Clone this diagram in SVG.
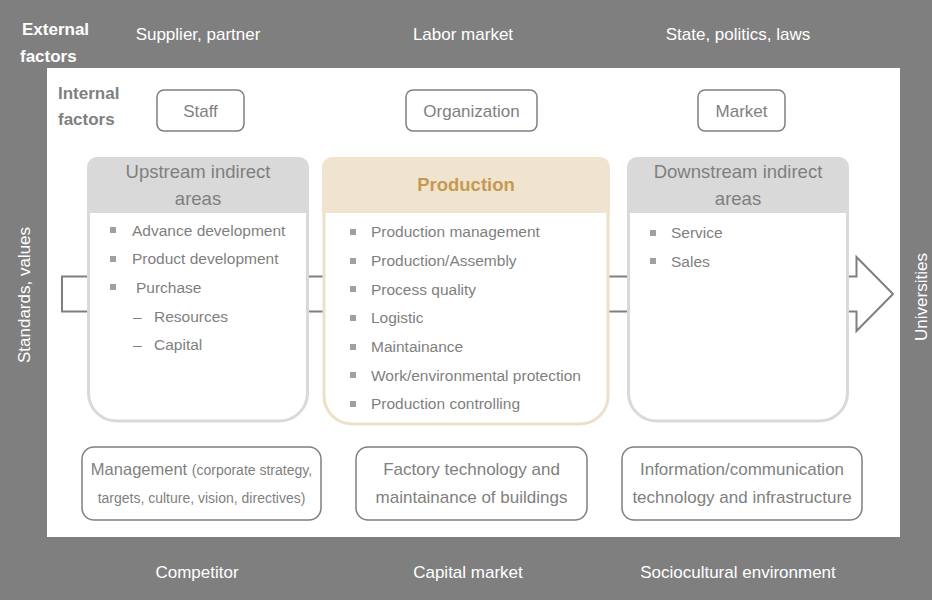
<svg xmlns="http://www.w3.org/2000/svg" width="932" height="600" viewBox="0 0 932 600">
<defs>
<style>
text{font-family:"Liberation Sans",Arial,sans-serif;}
.ext{fill:#ffffff;font-size:17px;}
.extb{fill:#ffffff;font-size:17px;font-weight:bold;}
.intb{fill:#7f7f7f;font-size:17px;font-weight:bold;}
.lbl{fill:#7f7f7f;font-size:17px;text-anchor:middle;}
.hdr{fill:#7f7f7f;font-size:18.5px;text-anchor:middle;}
.item{fill:#7f7f7f;font-size:15.5px;}
.box{fill:#ffffff;stroke:#7f7f7f;stroke-width:1.5;}
.gbody{fill:#ffffff;stroke:#d9d9d9;stroke-width:3;}
.ghead{fill:#d9d9d9;}
.pbody{fill:#ffffff;stroke:#eee0c7;stroke-width:3;}
.phead{fill:#f0e4cf;}
.bul{fill:#a0a0a0;}
.conn{fill:none;stroke:#7f7f7f;stroke-width:2;}
</style>
</defs>
<rect x="0" y="0" width="932" height="600" fill="#7f7f7f"/>
<rect x="47" y="68" width="853" height="469" fill="#ffffff"/>

<g id="external-labels">
<text class="extb" x="22" y="35">External</text>
<text class="extb" x="20" y="62">factors</text>
<text class="ext" x="198" y="40" text-anchor="middle">Supplier, partner</text>
<text class="ext" x="463" y="40" text-anchor="middle">Labor market</text>
<text class="ext" x="738" y="40" text-anchor="middle">State, politics, laws</text>
<text class="ext" x="197" y="578" text-anchor="middle">Competitor</text>
<text class="ext" x="468" y="578" text-anchor="middle">Capital market</text>
<text class="ext" x="738" y="578" text-anchor="middle">Sociocultural environment</text>
<text class="ext" transform="translate(30,295) rotate(-90)" text-anchor="middle">Standards, values</text>
<text class="ext" transform="translate(927,297) rotate(-90)" text-anchor="middle">Universities</text>
</g>

<g id="internal-label">
<text class="intb" x="58" y="99">Internal</text>
<text class="intb" x="58" y="125">factors</text>
</g>

<g id="connectors">
<path class="conn" d="M62,276.5 H856.5 V257 L893,294 L856.5,331 V311.5 H62 Z"/>
</g>

<g id="staff">
<rect class="box" x="157" y="90" width="87" height="41" rx="7"/>
<text class="lbl" x="200.5" y="117">Staff</text>
</g>
<g id="organization">
<rect class="box" x="406" y="90" width="131" height="41" rx="7"/>
<text class="lbl" x="471.5" y="117">Organization</text>
</g>
<g id="market">
<rect class="box" x="698" y="90" width="87" height="41" rx="7"/>
<text class="lbl" x="741.5" y="117">Market</text>
</g>

<g id="upstream">
<path class="gbody" d="M88.5,200 V393 A28,28 0 0 0 116.5,421 H279.5 A28,28 0 0 0 307.5,393 V200"/>
<path class="ghead" d="M87,213 V167 A10,10 0 0 1 97,157 H299 A10,10 0 0 1 309,167 V213 Z"/>
<text class="hdr" x="198" y="178">Upstream indirect</text>
<text class="hdr" x="198" y="205">areas</text>
<rect class="bul" x="110" y="227" width="6" height="6"/>
<text class="item" x="132" y="235.5">Advance development</text>
<rect class="bul" x="110" y="256" width="6" height="6"/>
<text class="item" x="132" y="264">Product development</text>
<rect class="bul" x="110" y="284" width="6" height="6"/>
<text class="item" x="136" y="293">Purchase</text>
<text class="item" x="133" y="321.5">–</text>
<text class="item" x="154" y="321.5">Resources</text>
<text class="item" x="133" y="350">–</text>
<text class="item" x="154" y="350">Capital</text>
</g>

<g id="production">
<path class="pbody" d="M324,200 V396 A28,28 0 0 0 352,424 H580 A28,28 0 0 0 608,396 V200"/>
<path class="phead" d="M322,213 V167 A10,10 0 0 1 332,157 H600 A10,10 0 0 1 610,167 V213 Z"/>
<text x="466" y="191" text-anchor="middle" style="font-size:18.5px;font-weight:bold;fill:#c49a52">Production</text>
<rect class="bul" x="350" y="229" width="6" height="6"/>
<text class="item" x="371" y="237">Production management</text>
<rect class="bul" x="350" y="258" width="6" height="6"/>
<text class="item" x="371" y="266">Production/Assembly</text>
<rect class="bul" x="350" y="286" width="6" height="6"/>
<text class="item" x="371" y="294.5">Process quality</text>
<rect class="bul" x="350" y="315" width="6" height="6"/>
<text class="item" x="371" y="323">Logistic</text>
<rect class="bul" x="350" y="344" width="6" height="6"/>
<text class="item" x="371" y="352">Maintainance</text>
<rect class="bul" x="350" y="372" width="6" height="6"/>
<text class="item" x="371" y="380.5">Work/environmental protection</text>
<rect class="bul" x="350" y="401" width="6" height="6"/>
<text class="item" x="371" y="409">Production controlling</text>
</g>

<g id="downstream">
<path class="gbody" d="M628.5,200 V393 A28,28 0 0 0 656.5,421 H819.5 A28,28 0 0 0 847.5,393 V200"/>
<path class="ghead" d="M627,213 V167 A10,10 0 0 1 637,157 H839 A10,10 0 0 1 849,167 V213 Z"/>
<text class="hdr" x="738" y="178">Downstream indirect</text>
<text class="hdr" x="738" y="205">areas</text>
<rect class="bul" x="650" y="230" width="6" height="6"/>
<text class="item" x="671" y="238">Service</text>
<rect class="bul" x="650" y="258" width="6" height="6"/>
<text class="item" x="671" y="266.5">Sales</text>
</g>

<g id="management">
<rect class="box" x="82" y="447" width="239" height="73" rx="12"/>
<text x="201.5" y="475" text-anchor="middle" style="fill:#7f7f7f;font-size:16.5px">Management <tspan style="font-size:14px">(corporate strategy,</tspan></text>
<text x="201.5" y="503" text-anchor="middle" style="fill:#7f7f7f;font-size:14px">targets, culture, vision, directives)</text>
</g>
<g id="factory">
<rect class="box" x="356" y="447" width="231" height="73" rx="12"/>
<text class="lbl" x="471.5" y="475">Factory technology and</text>
<text class="lbl" x="471.5" y="503">maintainance of buildings</text>
</g>
<g id="ict">
<rect class="box" x="622" y="447" width="240" height="73" rx="12"/>
<text class="lbl" x="742" y="475">Information/communication</text>
<text class="lbl" x="742" y="503">technology and infrastructure</text>
</g>
</svg>
